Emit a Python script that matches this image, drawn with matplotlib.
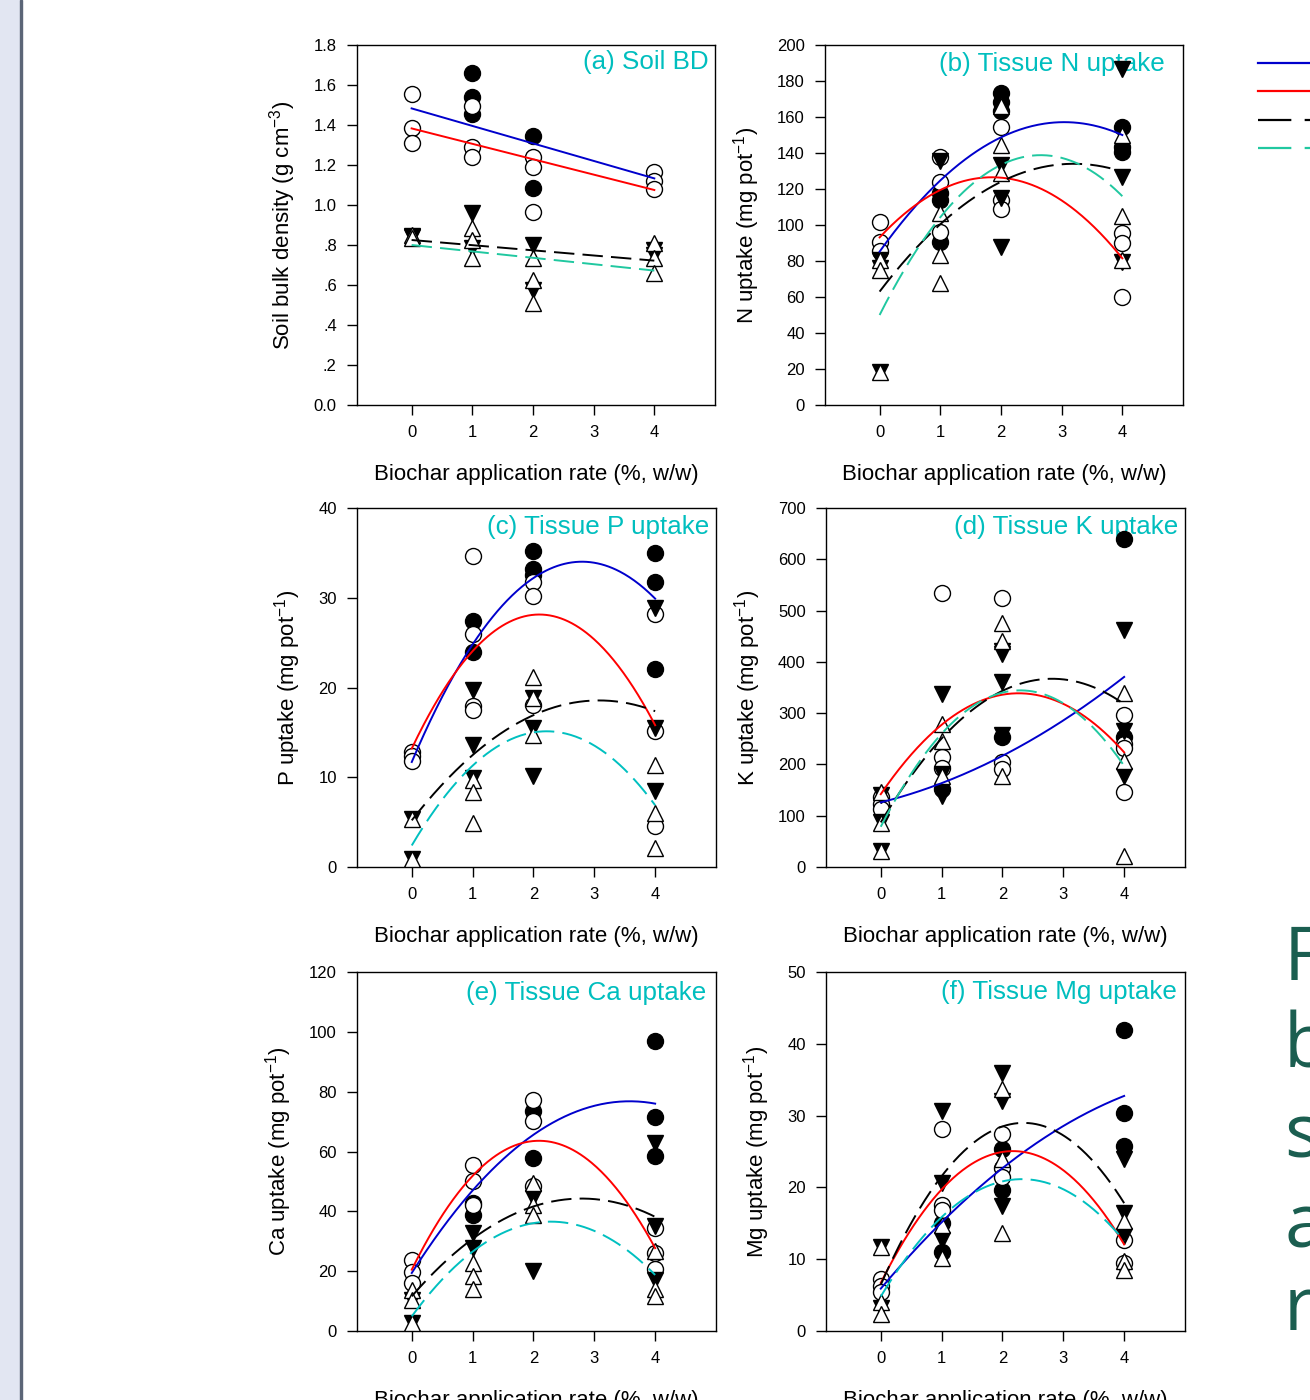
import matplotlib
matplotlib.use("Agg")
import matplotlib.pyplot as plt
import numpy as np
from matplotlib.lines import Line2D
from matplotlib.patches import Rectangle
from matplotlib.ticker import FuncFormatter

plt.rcParams["font.family"] = "Liberation Sans"
plt.rcParams["mathtext.fontset"] = "custom"
plt.rcParams["mathtext.rm"] = "Liberation Sans"
plt.rcParams["mathtext.it"] = "Liberation Sans:italic"

# biochar rates; each series below holds the replicate values per rate
RATES = [0, 1, 2, 4]

# (a) soil bulk density
A_FILLED = [[], [1.658, 1.54, 1.455], [1.347, 1.087], []]
A_OPEN = [[1.553, 1.383, 1.308], [1.497, 1.288, 1.238], [1.242, 1.192, 0.967], [1.163, 1.122, 1.08]]
A_DOWN = [[0.845, 0.84], [0.958, 0.783], [0.80, 0.575], [0.775, 0.75]]
A_UP = [[0.85, 0.835], [0.883, 0.825, 0.733], [0.733, 0.625, 0.508], [0.808, 0.733, 0.658]]
A_FITS = [[-0.0875, 1.483], [-0.077, 1.383], [-0.0258, 0.825], [-0.032, 0.80]]

# (b) N uptake
B_FILLED = [[], [118, 114, 90.7], [173.1, 168.5, 163.5], [154.6, 143.5, 140.7]]
B_OPEN = [[101.9, 90.7, 85.7], [138, 124, 96.3], [154.3, 114, 108.7], [95.7, 90.2, 59.8]]
B_DOWN = [[80.6, 75.9, 18.5], [135.7], [133.3, 114.8, 87.6], [186.5, 126.9, 79.6]]
B_UP = [[80.6, 75, 18.5], [106.5, 83.3, 68.0], [166, 144.4, 128.7], [150, 105, 80.6]]
B_FITS = [[-7.775, 47.3, 85.2], [-9.75, 36.1, 93.1], [-6.925, 44.35, 63], [-12.6, 66.9, 50]]

# (c) P uptake
C_FILLED = [[], [27.4, 24.0], [35.2, 33.2, 32.5], [35.0, 31.7, 22.1]]
C_OPEN = [[12.85, 12.4, 11.8], [34.65, 26.0, 17.9, 17.5], [31.8, 30.2, 18.1], [28.2, 15.15, 4.6]]
C_DOWN = [[5.4, 0.9], [19.7, 13.6, 9.9], [18.8, 15.45, 10.1], [28.9, 15.5, 8.5]]
C_UP = [[5.4, 0.9], [9.7, 8.4, 4.9], [21.2, 18.8, 14.7], [11.4, 6.0, 2.1]]
C_FITS = [[-2.85, 15.95, 11.7], [-3.4, 14.25, 13.2], [-1.41, 8.68, 5.2], [-2.59, 11.48, 2.4]]

# (d) K uptake
D_FILLED = [[], [152], [252.7], [640, 252.7]]
D_OPEN = [[135.8, 122.7, 113], [535, 213.7, 194], [524, 204, 191], [296.7, 239.6, 233, 145.5]]
D_DOWN = [[140, 87, 31.8], [338, 181, 139], [421, 415, 360, 258], [461.7, 265.5, 177.9]]
D_UP = [[145.5, 86, 31.8], [278.6, 246, 178], [476.7, 441, 178], [338.4, 207, 22]]
D_FITS = [[7.89, 29.6, 126], [-38.3, 173.6, 142], [-35.3, 198.85, 87], [-50.56, 231.9, 78.5]]

# (e) Ca uptake
E_FILLED = [[], [42.8, 38.9], [73.6, 57.8], [96.8, 71.4, 58.4]]
E_OPEN = [[23.8, 19.7, 16.0], [55.6, 50.0, 42], [77.3, 70.1, 48.4], [34.5, 26, 20.7]]
E_DOWN = [[10.5, 2.7], [32.8, 27.7], [44.5, 19.95], [62.8, 35.0, 17.2]]
E_UP = [[13.8, 10.2, 2.7], [22.7, 18.3, 14.1], [49.5, 42.2, 38.9], [26.6, 14.1, 11.6]]
E_FITS = [[-4.475, 32.05, 19.4], [-9.85, 41.2, 20.5], [-4.19, 23.4, 11.6], [-6.06, 27.7, 4.9]]

# (f) Mg uptake
F_FILLED = [[], [15.0, 11.0], [25.3, 19.7], [41.9, 30.4, 25.7]]
F_OPEN = [[7.3, 6.2, 5.4], [28.1, 17.6, 16.8], [27.5, 22.7, 21.5], [12.7, 9.5]]
F_DOWN = [[11.66, 3.2], [30.6, 20.6, 12.7], [35.9, 32.0, 17.4], [23.9, 16.4, 13.3]]
F_UP = [[11.66, 4.1, 2.3], [14.8, 10.2], [33.7, 23.9, 13.6], [15.3, 9.7, 8.5]]
F_FITS = [[-0.84, 10.07, 5.9], [-3.89, 16.9, 6.7], [-4.09, 19.2, 6.45], [-3.04, 14.1, 4.8]]

TITLES = ["(a) Soil BD", "(b) Tissue N uptake", "(c) Tissue P uptake",
          "(d) Tissue K uptake", "(e) Tissue Ca uptake", "(f) Tissue Mg uptake"]
YLABELS = ["Soil bulk density (g cm$^{-3}$)", "N uptake (mg pot$^{-1}$)", "P uptake (mg pot$^{-1}$)",
           "K uptake (mg pot$^{-1}$)", "Ca uptake (mg pot$^{-1}$)", "Mg uptake (mg pot$^{-1}$)"]
YMAX = [1.8, 200, 40, 700, 120, 50]
YSTEP = [0.2, 20, 10, 100, 20, 10]
XLABEL = "Biochar application rate (%, w/w)"

BLUE = "#0000cc"; RED = "#ff0000"; TEAL = "#20c8a0"; CYAN = "#00c0c0"; TITLE_C = "#00bebe"
W, H = 1310, 1400
# title inset from the right spine / top spine, in pixels
TITLE_DX = [6, 18, 7, 7, 10, 8]
TITLE_DY = [17, 19, 19, 19, 21, 20]


def bd_fmt(v, _):
    s = f"{v:.1f}"
    return s[1:] if s.startswith("0.") and v > 0 else s


def px_axes(left, top, right, bottom):
    return fig.add_axes([left / W, 1 - bottom / H, (right - left) / W, (bottom - top) / H])


def series_xy(groups):
    xs, ys = [], []
    for r, vals in zip(RATES, groups):
        xs += [r] * len(vals); ys += vals
    return xs, ys


def panel(ax, filled, opened, down, up, fits, i, dcol, box):
    ms = 11.5
    for groups, mk, fc in [(filled, "o", "black"), (opened, "o", "white"),
                           (down, "v", "black"), (up, "^", "white")]:
        xs, ys = series_xy(groups)
        ax.plot(xs, ys, ls="none", marker=mk, ms=ms, mfc=fc, mec="black", mew=1.0, zorder=3)
    xx = np.linspace(0, 4, 200)
    ax.plot(xx, np.polyval(fits[0], xx), color=BLUE, lw=1.4, zorder=4)
    ax.plot(xx, np.polyval(fits[1], xx), color=RED, lw=1.4, zorder=4)
    ax.plot(xx, np.polyval(fits[2], xx), color="black", lw=1.4, dashes=(10.5, 4.2), zorder=4)
    ax.plot(xx, np.polyval(fits[3], xx), color=dcol, lw=1.4, dashes=(10.5, 4.2), zorder=4)
    ax.set_xlim(-0.9, 5.0)
    ax.set_ylim(0, YMAX[i])
    ax.set_xticks([0, 1, 2, 3, 4])
    ax.set_yticks(np.arange(0, YMAX[i] + YSTEP[i] / 2, YSTEP[i]))
    if i == 0:
        ax.yaxis.set_major_formatter(FuncFormatter(bd_fmt))
    ax.tick_params(direction="out", length=7.5, width=1, labelsize=12, pad=7)
    for s in ax.spines.values():
        s.set_linewidth(1)
    ax.set_xlabel(XLABEL, fontsize=16, labelpad=17)
    ax.set_ylabel(YLABELS[i], fontsize=16, labelpad=11)
    bw, bh = box[2] - box[0], box[3] - box[1]
    ax.text(1 - TITLE_DX[i] / bw, 1 - TITLE_DY[i] / bh, TITLES[i], transform=ax.transAxes,
            ha="right", va="center", color=TITLE_C, fontsize=18.7, zorder=2)


fig = plt.figure(figsize=(W / 100, H / 100), dpi=100)

# slide decoration: left stripe
fig.patches.append(Rectangle((0, 0), 20 / W, 1, transform=fig.transFigure, color="#e2e6f2", zorder=0))
fig.patches.append(Rectangle((20 / W, 0), 2 / W, 1, transform=fig.transFigure, color="#5b6577", zorder=0))

boxes = [(357, 45, 715, 405), (825, 45, 1183, 405),
         (357, 508, 716, 867), (826, 508, 1185, 867),
         (357, 972, 716, 1331), (826, 972, 1185, 1331)]
data = [(A_FILLED, A_OPEN, A_DOWN, A_UP, A_FITS, TEAL),
        (B_FILLED, B_OPEN, B_DOWN, B_UP, B_FITS, TEAL),
        (C_FILLED, C_OPEN, C_DOWN, C_UP, C_FITS, CYAN),
        (D_FILLED, D_OPEN, D_DOWN, D_UP, D_FITS, TEAL),
        (E_FILLED, E_OPEN, E_DOWN, E_UP, E_FITS, CYAN),
        (F_FILLED, F_OPEN, F_DOWN, F_UP, F_FITS, CYAN)]
for i, (b, d) in enumerate(zip(boxes, data)):
    ax = px_axes(*b)
    panel(ax, d[0], d[1], d[2], d[3], d[4], i, d[5], b)

# legend samples at the right edge (labels fall outside the slide crop)
for yy, col, dash in [(63, BLUE, None), (91, RED, None), (120, "black", (15, 6)), (148, TEAL, (15, 6))]:
    ln = Line2D([1258 / W, 1.0], [1 - yy / H] * 2, transform=fig.transFigure, color=col, lw=1.6)
    if dash:
        ln.set_dashes(dash)
    fig.lines.append(ln)

# slide title letters cut off at the right edge
for ch, yb in zip(["F", "b", "s", "a", "r"], [980, 1067, 1157, 1247, 1330]):
    fig.text(1284 / W, 1 - yb / H, ch, fontsize=54, color="#1b5e50", family="Open Sans", va="baseline")

fig.savefig("out.png", dpi=100)
